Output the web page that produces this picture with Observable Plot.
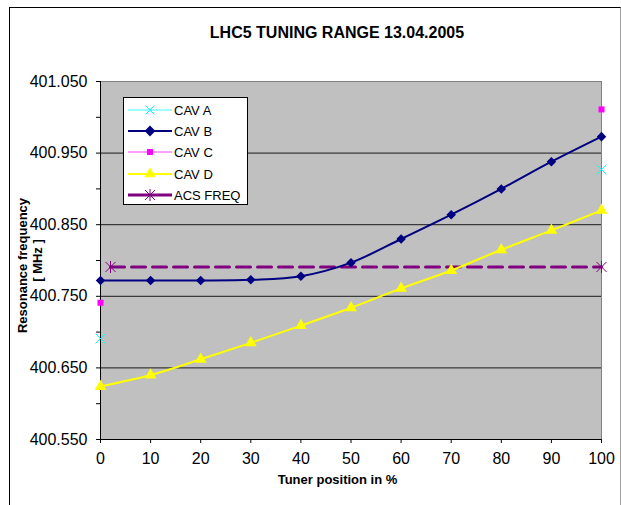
<!DOCTYPE html>
<html>
<head>
<meta charset="utf-8">
<script src="https://cdn.jsdelivr.net/npm/d3@7"></script>
<script src="https://cdn.jsdelivr.net/npm/@observablehq/plot@0.6"></script>
<style>
  html, body { margin: 0; padding: 0; background: white; }
  #wrap { position: relative; width: 621px; height: 505px; overflow: hidden; background: white; font-family: Arial, "Liberation Sans", sans-serif; }
  #chart { position: absolute; left: 0; top: 0; }
  #border { position: absolute; left: 9px; top: 7px; width: 610px; height: 520px; border-left: 1px solid #000; border-top: 1px solid #000; border-right: 1px solid #a0a0a0; pointer-events: none; }
  #title { position: absolute; left: 0; top: 25px; width: 674px; text-align: center; font-size: 16px; line-height: 16px; font-weight: bold; color: #000; }
  #legend { position: absolute; left: 123px; top: 97px; }
</style>
</head>
<body>
<div id="wrap">
  <div id="chart"></div>
  <div id="title">LHC5 TUNING RANGE 13.04.2005</div>
  <svg id="legend" width="126" height="109"></svg>
  <div id="border"></div>
</div>
<script>
// ---- data ----
const tuner = [0, 10, 20, 30, 40, 50, 60, 70, 80, 90, 100];
const cavB = [400.772, 400.772, 400.772, 400.773, 400.778, 400.797, 400.830, 400.864, 400.900, 400.938, 400.973];
const cavD = [400.624, 400.640, 400.662, 400.685, 400.709, 400.734, 400.761, 400.786, 400.815, 400.842, 400.870];
const cavAx = [0, 100];
const cavA = [400.691, 400.927];
const cavCx = [0, 100];
const cavC = [400.741, 401.011];
const acsX = [2, 100];
const acs = [400.791, 400.791];
const yMajor = [400.55, 400.65, 400.75, 400.85, 400.95, 401.05];
const yLabels = ["400.550", "400.650", "400.750", "400.850", "400.950", "401.050"];
const yMinor = [400.55, 400.60, 400.65, 400.70, 400.75, 400.80, 400.85, 400.90, 400.95, 401.00, 401.05];
const xTicks = [0, 10, 20, 30, 40, 50, 60, 70, 80, 90, 100];
const seriesNames = ["CAV A", "CAV B", "CAV C", "CAV D", "ACS FREQ"];

const toRows = (xs, ys) => xs.map((x, i) => ({x, y: ys[i]}));
const rowsB = toRows(tuner, cavB);
const rowsD = toRows(tuner, cavD);
const rowsA = toRows(cavAx, cavA);
const rowsC = toRows(cavCx, cavC);
const rowsACS = toRows(acsX, acs);

// Excel-style star marker: an X with a vertical bar
const excelStar = {
  draw(ctx, size) {
    const r = Math.sqrt(size / Math.PI);
    ctx.moveTo(-r, -r); ctx.lineTo(r, r);
    ctx.moveTo(-r, r); ctx.lineTo(r, -r);
    ctx.moveTo(0, -r * 1.2); ctx.lineTo(0, r * 1.2);
  }
};

const chart = Plot.plot({
  width: 621,
  height: 505,
  marginLeft: 100,
  marginRight: 20,
  marginTop: 81,
  marginBottom: 66,
  style: {fontFamily: "Arial, 'Liberation Sans', sans-serif", fontSize: "16px", background: "transparent", color: "#000"},
  x: {domain: [0, 100]},
  y: {domain: [400.55, 401.05]},
  marks: [
    Plot.frame({fill: "#c0c0c0", stroke: "#808080"}),
    Plot.gridY(yMajor.slice(1, -1), {stroke: "#1a1a1a", strokeOpacity: 1, strokeWidth: 1}),
    Plot.axisY({ticks: yMinor, tickSize: 4, tickFormat: () => "", stroke: "#000", label: null}),
    Plot.axisY({ticks: yMajor, tickSize: 0, tickPadding: 13, fontSize: 16, label: null, tickFormat: (d) => yLabels[yMajor.indexOf(d)]}),
    Plot.axisX({ticks: xTicks, tickSize: 4, tickPadding: 9, fontSize: 16, label: null}),
    Plot.ruleX([0], {stroke: "#000", strokeWidth: 1}),
    Plot.ruleY([400.55], {stroke: "#000", strokeWidth: 1}),
    Plot.text(["Tuner position in %"], {frameAnchor: "bottom-left", dx: 237, dy: 44, fontWeight: "bold", fontSize: 13, textAnchor: "middle"}),
    Plot.text(["Resonance frequency"], {frameAnchor: "left", rotate: -90, dx: -78, dy: 5, fontWeight: "bold", fontSize: 13, textAnchor: "middle"}),
    Plot.text(["[ MHz ]"], {frameAnchor: "left", rotate: -90, dx: -63, dy: 0, fontWeight: "bold", fontSize: 13, textAnchor: "middle"}),
    // ACS FREQ
    Plot.line(rowsACS, {x: "x", y: "y", stroke: "#800080", strokeWidth: 3, strokeDasharray: "14,7"}),
    Plot.dot(rowsACS, {x: "x", y: "y", symbol: excelStar, r: 5, fill: "none", stroke: "#800080", strokeWidth: 1}),
    // CAV D
    Plot.line(rowsD, {x: "x", y: "y", stroke: "#ffff00", strokeWidth: 2, curve: "catmull-rom"}),
    Plot.dot(rowsD, {x: "x", y: "y", symbol: "triangle", r: 4.4, fill: "#ffff00", stroke: "none"}),
    // CAV B
    Plot.line(rowsB, {x: "x", y: "y", stroke: "#000080", strokeWidth: 2, curve: "catmull-rom"}),
    Plot.dot(rowsB, {x: "x", y: "y", symbol: "diamond2", r: 4.3, fill: "#000080", stroke: "none"}),
    // CAV A
    Plot.dot(rowsA, {x: "x", y: "y", symbol: "times", r: 4.5, fill: "none", stroke: "#00ffff", strokeWidth: 1}),
    // CAV C
    Plot.dot(rowsC, {x: "x", y: "y", symbol: "square", r: 3.4, fill: "#ff00ff", stroke: "none"})
  ]
});
document.getElementById("chart").appendChild(chart);

// ---- legend ----
const leg = d3.select("#legend");
leg.append("rect").attr("x", 0.5).attr("y", 0.5).attr("width", 124).attr("height", 107)
  .attr("fill", "#fff").attr("stroke", "#000").attr("stroke-width", 1);
const diamond2 = {draw(ctx, size){ const r = Math.sqrt(size / 2); ctx.moveTo(0, -r); ctx.lineTo(r, 0); ctx.lineTo(0, r); ctx.lineTo(-r, 0); ctx.closePath(); }};
const legStyles = [
  {line: "#80ffff", w: 1.5, sym: d3.symbolTimes, size: 50, fill: "none", stroke: "#00ffff"},
  {line: "#000080", w: 2, sym: diamond2, size: 58, fill: "#000080", stroke: "none"},
  {line: "#ff80ff", w: 1.5, sym: d3.symbolSquare, size: 36, fill: "#ff00ff", stroke: "none"},
  {line: "#ffff00", w: 2, sym: d3.symbolTriangle, size: 58, fill: "#ffff00", stroke: "none"},
  {line: "#800080", w: 3, sym: excelStar, size: 80, fill: "none", stroke: "#800080"}
];
const rowY = [13, 34, 55, 77, 98];
seriesNames.forEach((name, i) => {
  const s = legStyles[i];
  const y = rowY[i];
  leg.append("line").attr("x1", 5).attr("x2", 49).attr("y1", y).attr("y2", y)
    .attr("stroke", s.line).attr("stroke-width", s.w);
  leg.append("path").attr("d", d3.symbol(s.sym, s.size)()).attr("transform", `translate(27,${y})`)
    .attr("fill", s.fill).attr("stroke", s.stroke).attr("stroke-width", 1);
  leg.append("text").attr("x", 51).attr("y", y + 4.7).attr("font-size", 13)
    .attr("font-family", "Arial, 'Liberation Sans', sans-serif").attr("fill", "#000").text(name);
});
</script>
</body>
</html>
